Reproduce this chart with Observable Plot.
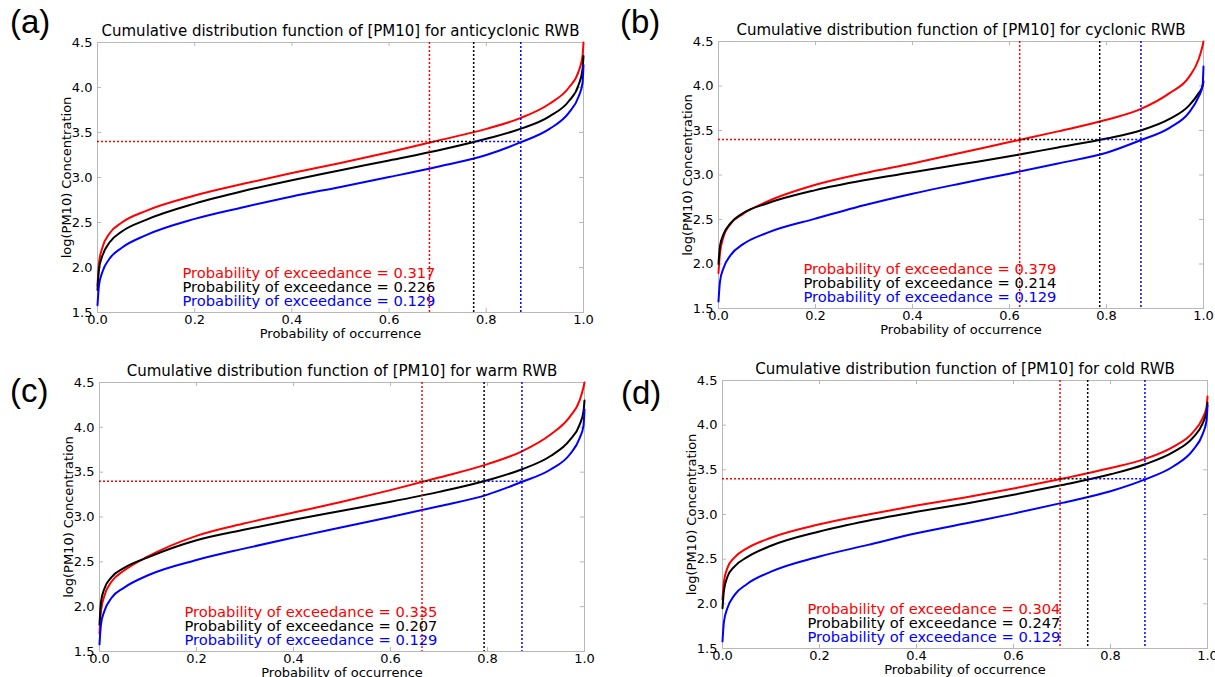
<!DOCTYPE html>
<html><head><meta charset="utf-8">
<script src="https://cdn.jsdelivr.net/npm/d3@7"></script>
<script src="https://cdn.jsdelivr.net/npm/@observablehq/plot@0.6"></script>
<style>
body{margin:0;background:#fff;width:1215px;height:677px;overflow:hidden;position:relative;font-family:"DejaVu Sans",sans-serif}
.panel{position:absolute}
.panel svg{overflow:visible;background:transparent}
.tag{position:absolute;font-family:"Liberation Sans",Arial,sans-serif;font-size:33px;line-height:1;color:#000}
</style></head><body>
<script>
// ---- data ----
const panelTags = ["(a)", "(b)", "(c)", "(d)"];
const titles = [
  "Cumulative distribution function of [PM10] for anticyclonic RWB",
  "Cumulative distribution function of [PM10] for cyclonic RWB",
  "Cumulative distribution function of [PM10] for warm RWB",
  "Cumulative distribution function of [PM10] for cold RWB"
];
const threshold = 3.4;
const exceedRed   = [0.317, 0.379, 0.335, 0.304];
const exceedBlack = [0.226, 0.214, 0.207, 0.247];
const exceedBlue  = [0.129, 0.129, 0.129, 0.129];
const xTicks = [0, 0.2, 0.4, 0.6, 0.8, 1.0];
const yTicks = [1.5, 2.0, 2.5, 3.0, 3.5, 4.0, 4.5];

const probs  = [0, 0.003, 0.01, 0.025, 0.05, 0.1, 0.2, 0.3, 0.4, 0.5, 0.6, 0.7, 0.8, 0.87, 0.93, 0.97, 0.99, 0.998, 1.0];

const redA   = [1.80, 2.05, 2.22, 2.38, 2.50, 2.63, 2.80, 2.93, 3.05, 3.16, 3.28, 3.41, 3.54, 3.66, 3.82, 4.00, 4.18, 4.35, 4.50];
const blackA = [1.75, 1.98, 2.13, 2.28, 2.40, 2.53, 2.71, 2.85, 2.97, 3.08, 3.19, 3.30, 3.43, 3.54, 3.68, 3.85, 4.03, 4.20, 4.35];
const blueA  = [1.58, 1.80, 1.95, 2.10, 2.22, 2.36, 2.54, 2.67, 2.79, 2.895, 3.005, 3.12, 3.25, 3.39, 3.54, 3.72, 3.90, 4.05, 4.25];

const redB   = [1.90, 2.12, 2.30, 2.45, 2.56, 2.70, 2.89, 3.02, 3.13, 3.25, 3.37, 3.49, 3.62, 3.74, 3.92, 4.10, 4.30, 4.45, 4.50];
const blackB = [2.00, 2.20, 2.33, 2.46, 2.57, 2.68, 2.83, 2.94, 3.03, 3.12, 3.21, 3.31, 3.41, 3.50, 3.63, 3.78, 3.92, 4.00, 4.05];
const blueB  = [1.58, 1.80, 1.95, 2.10, 2.22, 2.35, 2.51, 2.66, 2.79, 2.905, 3.015, 3.13, 3.25, 3.39, 3.53, 3.70, 3.88, 4.00, 4.22];

const redC   = [1.70, 1.95, 2.12, 2.28, 2.40, 2.56, 2.79, 2.93, 3.05, 3.17, 3.30, 3.44, 3.59, 3.73, 3.92, 4.12, 4.30, 4.45, 4.50];
const blackC = [1.80, 2.05, 2.20, 2.33, 2.43, 2.55, 2.74, 2.86, 2.97, 3.07, 3.17, 3.28, 3.41, 3.53, 3.68, 3.86, 4.03, 4.18, 4.30];
const blueC  = [1.58, 1.80, 1.95, 2.10, 2.21, 2.35, 2.52, 2.65, 2.77, 2.885, 3.00, 3.12, 3.25, 3.39, 3.53, 3.70, 3.88, 4.02, 4.20];

const redD   = [2.05, 2.25, 2.40, 2.52, 2.62, 2.74, 2.89, 3.00, 3.10, 3.19, 3.29, 3.40, 3.52, 3.62, 3.76, 3.92, 4.08, 4.20, 4.32];
const blackD = [1.95, 2.15, 2.30, 2.42, 2.52, 2.65, 2.81, 2.93, 3.03, 3.12, 3.22, 3.33, 3.45, 3.56, 3.70, 3.86, 4.02, 4.15, 4.25];
const blueD  = [1.58, 1.80, 1.95, 2.10, 2.22, 2.36, 2.53, 2.66, 2.79, 2.90, 3.01, 3.13, 3.26, 3.39, 3.54, 3.72, 3.90, 4.05, 4.22];

const curves = [[redA, blackA, blueA], [redB, blackB, blueB], [redC, blackC, blueC], [redD, blackD, blueD]];

// ---- layout (styles) ----
const seriesColors = ["#ff0000", "#000000", "#0000ff"];
const frames = [
  {x: 97,  y: 42,  w: 486, h: 270, tagX: 10,  tagY: 5},
  {x: 718, y: 41,  w: 485, h: 267, tagX: 620, tagY: 5},
  {x: 99,  y: 382, w: 485, h: 269, tagX: 10,  tagY: 374},
  {x: 722, y: 380, w: 485, h: 268, tagX: 621, tagY: 376}
];
const mL = 100, mT = 45, mR = 8, mB = 34;
const spine = "#b8b8b8";

frames.forEach((f, i) => {
  const exceed = [exceedRed[i], exceedBlack[i], exceedBlue[i]];
  const rows = [];
  curves[i].forEach((vals, s) => vals.forEach((v, k) => rows.push({p: probs[k], v, c: seriesColors[s]})));
  const crossings = exceed.map((e, s) => ({p: 1 - e, c: seriesColors[s]}));
  // horizontal threshold segments: each colour visible from the previous crossing to its own
  const hSegs = crossings.map((d, s) => ({p0: s === 0 ? 0 : crossings[s - 1].p, p: d.p, c: d.c}));
  const notes = exceed.map((e, s) => ({t: `Probability of exceedance = ${e.toFixed(3)}`, c: seriesColors[s]}));

  const chart = Plot.plot({
    width: mL + f.w + mR,
    height: mT + f.h + mB,
    marginLeft: mL, marginTop: mT, marginRight: mR, marginBottom: mB,
    style: {fontFamily: "DejaVu Sans, sans-serif", fontSize: "13px", background: "transparent", overflow: "visible"},
    x: {domain: [0, 1]},
    y: {domain: [1.5, 4.5]},
    color: {type: "identity"},
    marks: [
      Plot.axisX({ticks: xTicks, tickSize: 0, tickPadding: 2, tickFormat: d3.format(".1f"),
        label: "Probability of occurrence", labelAnchor: "center", labelArrow: "none", labelOffset: 25, fontSize: 13}),
      Plot.axisY({ticks: yTicks, tickSize: 0, tickPadding: 5, tickFormat: d3.format(".1f"),
        label: "log(PM10) Concentration", labelAnchor: "center", labelArrow: "none", labelOffset: 36, fontSize: 13}),
      // inward ticks on all four sides
      Plot.ruleX(xTicks, {x: d => d, insetTop: f.h - 4, stroke: spine}),
      Plot.ruleX(xTicks, {x: d => d, insetBottom: f.h - 4, stroke: spine}),
      Plot.ruleY(yTicks, {y: d => d, insetRight: f.w - 4, stroke: spine}),
      Plot.ruleY(yTicks, {y: d => d, insetLeft: f.w - 4, stroke: spine}),
      Plot.frame({stroke: spine}),
      Plot.line(rows, {x: "p", y: "v", z: "c", stroke: "c", strokeWidth: 2, curve: "monotone-x"}),
      Plot.ruleX(crossings, {x: "p", stroke: "c", strokeWidth: 1.5, strokeDasharray: "2,2"}),
      Plot.ruleY(hSegs, {y: () => threshold, x1: "p0", x2: "p", stroke: "c", strokeWidth: 1.5, strokeDasharray: "2,2"}),
      ...notes.map((n, s) => Plot.text([n], {text: "t", fill: "c", frameAnchor: "bottom-left", textAnchor: "start",
        lineAnchor: "middle", dx: 85, dy: -39 + 14 * s, fontSize: 14.7})),
      Plot.text([titles[i]], {frameAnchor: "top", lineAnchor: "bottom", dy: -7, fontSize: 15})
    ]
  });
  const div = document.createElement("div");
  div.className = "panel";
  div.style.left = (f.x - mL) + "px";
  div.style.top = (f.y - mT) + "px";
  div.appendChild(chart);
  document.body.appendChild(div);

  const tag = document.createElement("div");
  tag.className = "tag";
  tag.style.left = f.tagX + "px";
  tag.style.top = f.tagY + "px";
  tag.textContent = panelTags[i];
  document.body.appendChild(tag);
});
</script>
</body></html>
